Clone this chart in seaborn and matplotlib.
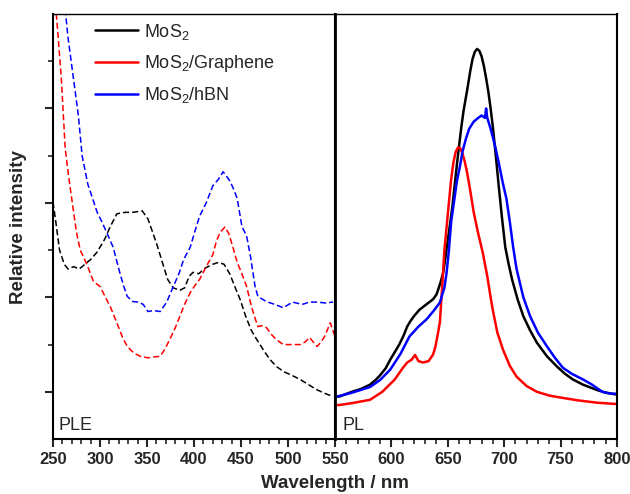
import numpy as np
import pandas as pd
import matplotlib
matplotlib.use("Agg")
import matplotlib.pyplot as plt
import seaborn as sns
from matplotlib.ticker import MultipleLocator, FixedLocator, NullFormatter

# PLE (dashed, left panel)
ple_black_x = [250, 253, 257, 262, 266, 272, 278, 284, 290, 297, 305, 311, 318, 327, 335, 345, 351, 356, 361,
               367, 372, 378, 385, 390, 395, 399, 405, 412, 420, 426, 432, 438, 444, 449, 455, 461, 467, 475,
               481, 488, 496, 504, 513, 522, 530, 540, 548]
ple_black_y = [5.02, 4.6, 4.0, 3.7, 3.6, 3.65, 3.6, 3.7, 3.8, 3.96, 4.23, 4.5, 4.77, 4.8, 4.8, 4.83, 4.66, 4.38,
               4.09, 3.7, 3.38, 3.2, 3.15, 3.2, 3.45, 3.53, 3.5, 3.62, 3.7, 3.74, 3.7, 3.5, 3.2, 2.96, 2.6, 2.3,
               2.1, 1.85, 1.68, 1.53, 1.42, 1.35, 1.26, 1.15, 1.05, 0.96, 0.9]

ple_red_x = [252, 254, 259, 263, 268, 275, 279, 286, 293, 300, 311, 318, 324, 329, 336, 343, 351, 358, 364, 369,
             374, 380, 385, 390, 396, 401, 406, 413, 420, 424, 428, 433, 437, 441, 446, 451, 456, 460, 463, 468,
             472, 477, 483, 488, 495, 505, 513, 518, 523, 527, 531, 535, 539, 545, 550]
ple_red_y = [9.2, 8.9, 7.6, 6.15, 5.36, 4.38, 4.0, 3.7, 3.34, 3.23, 2.8, 2.46, 2.15, 1.96, 1.82, 1.75, 1.72, 1.74,
             1.75, 1.9, 2.1, 2.35, 2.6, 2.85, 3.1, 3.25, 3.38, 3.65, 3.9, 4.2, 4.38, 4.49, 4.35, 4.09, 3.74, 3.5,
             3.23, 2.9, 2.68, 2.38, 2.4, 2.36, 2.2, 2.1, 2.0, 2.0, 2.0, 2.05, 2.15, 2.05, 1.96, 2.05, 2.17, 2.46,
             2.17]

ple_blue_x = [263, 266, 270, 274, 277, 281, 287, 292, 297, 302, 307, 314, 321, 325, 329, 335, 341, 346, 351, 357,
              364, 371, 378, 384, 389, 396, 401, 406, 413, 420, 426, 431, 438, 442, 446, 451, 456, 460, 465, 468,
              477, 486, 495, 505, 515, 523, 531, 540, 548]
ple_blue_y = [9.1, 8.5, 7.9, 7.3, 6.85, 6.0, 5.4, 5.1, 4.8, 4.6, 4.38, 4.06, 3.53, 3.25, 3.02, 2.91, 2.9, 2.85,
              2.7, 2.72, 2.7, 2.9, 3.23, 3.5, 3.8, 4.06, 4.4, 4.72, 5.0, 5.36, 5.5, 5.66, 5.47, 5.3, 5.09, 4.5,
              4.3, 3.88, 3.23, 3.02, 2.91, 2.85, 2.78, 2.9, 2.85, 2.9, 2.9, 2.88, 2.9]

# PL (solid, right panel)
pl_black_x = [550, 554, 565, 573, 581, 586, 590, 595, 599, 603, 607, 611, 614, 617, 620, 625, 631, 637, 640, 642,
              644, 646, 648, 650, 652, 654, 656, 658, 660, 662, 664, 667, 670, 672, 674, 676, 678, 680, 682, 684,
              686, 688, 690, 693, 695, 698, 701, 704, 707, 712, 717, 723, 729, 738, 747, 754, 761, 770, 782, 790,
              800]
pl_black_y = [0.9, 0.9, 1.0, 1.06, 1.15, 1.25, 1.35, 1.5, 1.68, 1.84, 2.0, 2.2, 2.38, 2.5, 2.6, 2.74, 2.85, 2.96,
              3.06, 3.2, 3.35, 3.53, 3.85, 4.2, 4.55, 4.9, 5.35, 5.79, 6.2, 6.6, 6.95, 7.36, 7.8, 8.05, 8.2, 8.26,
              8.22, 8.1, 7.9, 7.64, 7.35, 7.0, 6.6, 5.9, 5.4, 4.7, 4.06, 3.7, 3.38, 2.95, 2.6, 2.3, 2.04, 1.75,
              1.53, 1.38, 1.26, 1.15, 1.04, 0.98, 0.94]

pl_red_x = [550, 554, 565, 581, 592, 603, 610, 614, 618, 621, 624, 628, 633, 637, 639, 641, 643, 645, 647, 649,
            651, 653, 655, 657, 659, 661, 663, 665, 667, 670, 673, 677, 681, 685, 688, 690, 694, 699, 705, 711,
            720, 729, 740, 752, 765, 782, 800]
pl_red_y = [0.72, 0.72, 0.76, 0.83, 1.0, 1.26, 1.5, 1.62, 1.68, 1.78, 1.65, 1.62, 1.65, 1.79, 1.95, 2.2, 2.47,
            3.2, 4.0, 4.5, 5.0, 5.5, 5.85, 6.08, 6.17, 6.16, 6.05, 5.88, 5.66, 5.25, 4.8, 4.35, 3.95, 3.45, 3.0,
            2.72, 2.25, 1.89, 1.55, 1.32, 1.12, 1.0, 0.92, 0.87, 0.82, 0.77, 0.74]

pl_blue_x = [550, 552, 565, 581, 590, 599, 608, 616, 624, 631, 637, 643, 645, 647, 649, 651, 653, 656, 658, 661,
             663, 666, 669, 673, 677, 680, 683, 684, 685, 688, 692, 695, 699, 702, 705, 708, 711, 717, 723, 730,
             738, 745, 752, 760, 770, 778, 787, 795, 800]
pl_blue_y = [0.9, 0.9, 0.98, 1.1, 1.25, 1.47, 1.8, 2.17, 2.38, 2.53, 2.7, 2.89, 3.05, 3.2, 3.53, 4.0, 4.6, 5.1,
             5.45, 5.8, 6.08, 6.35, 6.57, 6.72, 6.8, 6.85, 6.8, 7.0, 6.8, 6.57, 6.2, 5.87, 5.4, 5.09, 4.6, 4.06,
             3.6, 3.0, 2.6, 2.25, 1.96, 1.72, 1.51, 1.38, 1.26, 1.15, 1.0, 0.96, 0.96]

labels = ["MoS$_2$", "MoS$_2$/Graphene", "MoS$_2$/hBN"]
colors = ["black", "#ff0000", "#0000ff"]

sns.set_style("ticks")
plt.rcParams["font.family"] = ["Liberation Sans", "DejaVu Sans"]
plt.rcParams["mathtext.fontset"] = "custom"
plt.rcParams["mathtext.rm"] = "Liberation Sans"

fig = plt.figure(figsize=(6.3, 4.94), dpi=100)
ax1 = fig.add_axes([0.0841, 0.1113, 0.4476, 0.8604])
ax2 = fig.add_axes([0.5317, 0.1113, 0.4476, 0.8604], sharey=ax1)

ple = [(ple_black_x, ple_black_y), (ple_red_x, ple_red_y), (ple_blue_x, ple_blue_y)]
pl = [(pl_black_x, pl_black_y), (pl_red_x, pl_red_y), (pl_blue_x, pl_blue_y)]

for (x, y), c in zip(ple, colors):
    sns.lineplot(x=x, y=y, ax=ax1, color=c, linewidth=1.1, estimator=None)
    ax1.lines[-1].set_dashes((4, 2))

for (x, y), c, lab in zip(pl, colors, labels):
    sns.lineplot(x=x, y=y, ax=ax2, color=c, linewidth=1.8, estimator=None, label=lab)

ax1.set_xlim(250, 550)
ax2.set_xlim(550, 800)
ax1.set_ylim(0, 9)

ax1.xaxis.set_major_locator(MultipleLocator(50))
ax1.xaxis.set_minor_locator(MultipleLocator(10))
ax2.xaxis.set_major_locator(FixedLocator([600, 650, 700, 750, 800]))
ax2.xaxis.set_minor_locator(FixedLocator(list(range(560, 800, 10))))

ax1.yaxis.set_major_locator(FixedLocator([1, 3, 5, 7]))
ax1.yaxis.set_minor_locator(FixedLocator([2, 4, 6, 8]))
ax1.yaxis.set_major_formatter(NullFormatter())

for ax in (ax1, ax2):
    for s in ax.spines.values():
        s.set_visible(True)
        s.set_linewidth(1.5)
        s.set_color("black")
    ax.spines["top"].set_linewidth(1.0)
    ax.tick_params(axis="x", which="major", direction="out", length=6, width=1.5,
                   labelsize=12, pad=3)
    ax.tick_params(axis="x", which="minor", direction="out", length=3.5, width=1.2)
    for t in ax.get_xticklabels():
        t.set_fontweight("bold")
    ax.set_xlabel("")
    ax.set_ylabel("")

ax1.tick_params(axis="y", which="major", direction="out", length=6, width=1.5)
ax1.tick_params(axis="y", which="minor", direction="out", length=3.5, width=1.2)
ax2.tick_params(axis="y", which="both", left=False, right=False, labelleft=False)
ax2.spines["left"].set_linewidth(2)

handles, labs = ax2.get_legend_handles_labels()
ax2.get_legend().remove()
ax1.legend(handles, labs, loc="upper left", bbox_to_anchor=(0.09, 1.02), frameon=False,
           fontsize=13, handlelength=2.4, handletextpad=0.35, labelspacing=0.62)

ax1.text(0.02, 0.022, "PLE", transform=ax1.transAxes, fontsize=13)
ax2.text(0.025, 0.022, "PL", transform=ax2.transAxes, fontsize=13)

fig.text(0.532, 0.012, "Wavelength / nm", ha="center", fontsize=13.5, fontweight="bold")
fig.text(0.03, 0.54, "Relative intensity", rotation=90, va="center", ha="center",
         fontsize=13.5, fontweight="bold")

fig.savefig("out.png", dpi=100)
